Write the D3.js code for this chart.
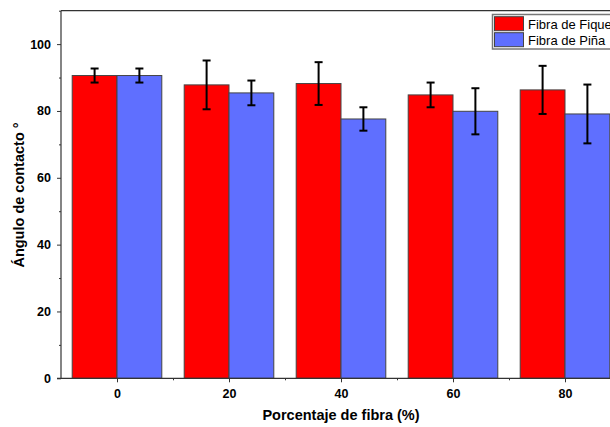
<!DOCTYPE html>
<html>
<head>
<meta charset="utf-8">
<script src="https://cdn.jsdelivr.net/npm/d3@7"></script>
<style>
  html, body { margin: 0; padding: 0; background: #fff; overflow: hidden; }
  svg { display: block; font-family: "Liberation Sans", Arial, sans-serif; }
</style>
</head>
<body>
<svg id="chart" width="610" height="427"></svg>
<script>
// Fibre percentage groups
const categories = [0, 20, 40, 60, 80];
// Contact angle (degrees) and standard deviation per fibre type
const fiqueValues = [90.6, 87.8, 88.2, 84.8, 86.3];
const fiqueErrors = [2.1, 7.3, 6.4, 3.7, 7.2];
const pinaValues = [90.6, 85.4, 77.6, 79.9, 79.1];
const pinaErrors = [2.1, 3.7, 3.5, 6.9, 8.8];
const seriesNames = ["Fibra de Fique", "Fibra de Piña"];
const yTicks = [0, 20, 40, 60, 80, 100];
const xTicks = [0, 20, 40, 60, 80];

const series = [
  { name: seriesNames[0], values: fiqueValues, errors: fiqueErrors, color: "#ff0000", offset: -1 },
  { name: seriesNames[1], values: pinaValues, errors: pinaErrors, color: "#5f6fff", offset: 0 }
];

const svg = d3.select("#chart");
const plotLeft = 61, plotTop = 10.7, plotBottom = 378.3, plotRight = 677;

const x = d3.scaleLinear().domain([-10, 100]).range([plotLeft, plotRight]);
const y = d3.scaleLinear().domain([0, 110]).range([plotBottom, plotTop]);
const barW = 8; // bar width in x-units

const g = svg.append("g");

// Bars
series.forEach(s => {
  g.selectAll(null).data(categories).enter().append("rect")
    .attr("x", (d) => x(d + s.offset * barW))
    .attr("width", x(barW) - x(0))
    .attr("y", (d, i) => y(s.values[i]))
    .attr("height", (d, i) => y(0) - y(s.values[i]))
    .attr("fill", s.color)
    .attr("stroke", "#444")
    .attr("stroke-width", 1);
});

// Error bars
series.forEach(s => {
  const cx = d => x(d + (s.offset + 0.5) * barW);
  const eg = g.append("g").attr("stroke", "#000").attr("stroke-width", 2);
  categories.forEach((d, i) => {
    const hi = y(s.values[i] + s.errors[i]);
    const lo = y(s.values[i] - s.errors[i]);
    const c = cx(d);
    eg.append("line").attr("x1", c).attr("x2", c).attr("y1", hi).attr("y2", lo);
    eg.append("line").attr("x1", c - 4).attr("x2", c + 4).attr("y1", hi).attr("y2", hi);
    eg.append("line").attr("x1", c - 4).attr("x2", c + 4).attr("y1", lo).attr("y2", lo);
  });
});

// Frame: top border
svg.append("line").attr("x1", plotLeft).attr("x2", 610).attr("y1", plotTop).attr("y2", plotTop)
  .attr("stroke", "#333").attr("stroke-width", 1.2);

// Y axis
const yAxis = d3.axisLeft(y).tickValues(yTicks).tickSize(4).tickPadding(6);
const yA = svg.append("g").attr("transform", `translate(${plotLeft},0)`).call(yAxis);
yA.select(".domain").attr("stroke", "#333").attr("stroke-width", 1.2)
  .attr("d", `M0,${plotTop}V${plotBottom}`);
yA.selectAll(".tick line").attr("stroke", "#333");
yA.selectAll("text").attr("font-size", 12.5).attr("font-weight", "bold").attr("fill", "#000");
// minor y ticks
const yMinor = d3.axisLeft(y).tickValues([10, 30, 50, 70, 90, 110]).tickSize(2).tickFormat("");
const yM = svg.append("g").attr("transform", `translate(${plotLeft},0)`).call(yMinor);
yM.select(".domain").remove();
yM.selectAll(".tick line").attr("stroke", "#333");

// X axis
const xAxis = d3.axisBottom(x).tickValues(xTicks).tickSize(4).tickPadding(7);
const xA = svg.append("g").attr("transform", `translate(0,${plotBottom})`).call(xAxis);
xA.select(".domain").attr("stroke", "#333").attr("stroke-width", 1.2)
  .attr("d", `M${plotLeft - 4},0H${plotRight}`);
xA.selectAll(".tick line").attr("stroke", "#333");
xA.selectAll("text").attr("font-size", 12.5).attr("font-weight", "bold").attr("fill", "#000");
const xMinor = d3.axisBottom(x).tickValues([10, 30, 50, 70, 90]).tickSize(2).tickFormat("");
const xM = svg.append("g").attr("transform", `translate(0,${plotBottom})`).call(xMinor);
xM.select(".domain").remove();
xM.selectAll(".tick line").attr("stroke", "#333");

// Axis titles
svg.append("text")
  .attr("x", 341).attr("y", 420)
  .attr("text-anchor", "middle")
  .attr("font-size", 14.5).attr("font-weight", "bold")
  .text("Porcentaje de fibra (%)");

svg.append("text")
  .attr("transform", "translate(24,195) rotate(-90)")
  .attr("text-anchor", "middle")
  .attr("font-size", 14.5).attr("font-weight", "bold")
  .text("Ángulo de contacto °");

// Legend
const lg = svg.append("g").attr("transform", "translate(492.5,14.5)");
lg.append("rect").attr("x", 0).attr("y", 0).attr("width", 140).attr("height", 34.5)
  .attr("fill", "#fff").attr("stroke", "#777").attr("stroke-width", 1.5);
series.forEach((s, i) => {
  lg.append("rect").attr("x", 2).attr("y", 2.2 + i * 16).attr("width", 29).attr("height", 14)
    .attr("fill", s.color).attr("stroke", "#444").attr("stroke-width", 1);
  lg.append("text").attr("x", 35.5).attr("y", 14 + i * 16)
    .attr("font-size", 13).attr("fill", "#000")
    .text(s.name);
});
</script>
</body>
</html>
